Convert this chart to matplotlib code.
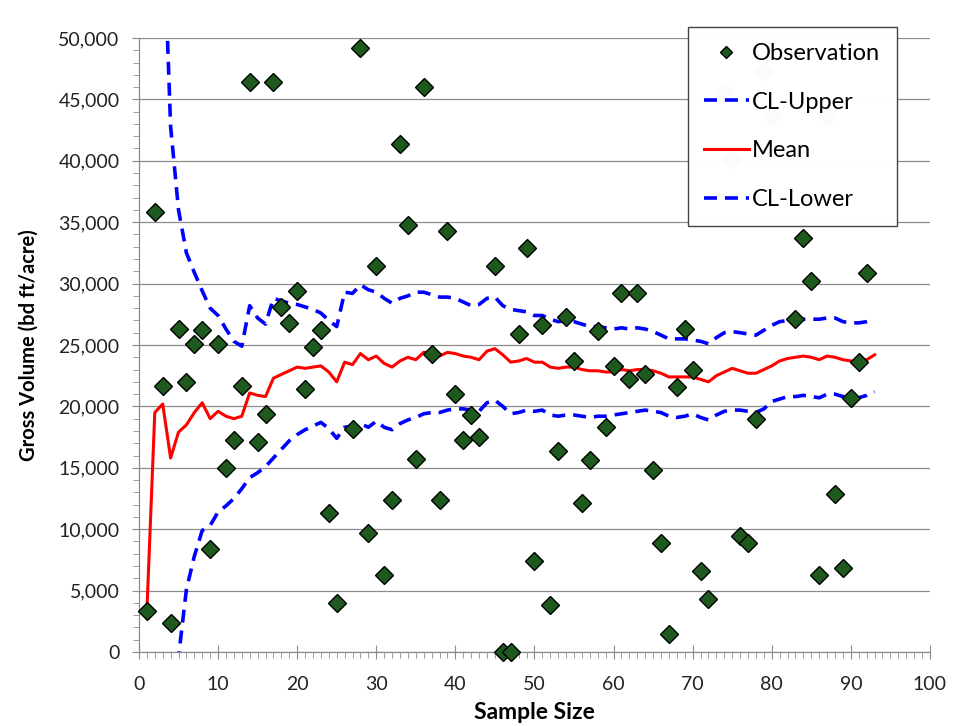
import matplotlib
matplotlib.use('Agg')
import matplotlib.pyplot as plt
from matplotlib.ticker import MultipleLocator, FuncFormatter

plt.rcParams['font.family'] = ['Lato', 'DejaVu Sans']

# observations (sample number, gross volume)
obs_x = [1, 2, 3, 4, 5, 6, 7, 8, 9, 10, 11, 12, 13, 14, 15, 16, 17, 18, 19, 20,
         21, 22, 23, 24, 25, 27, 28, 29, 30, 31, 32, 33, 34, 35, 36, 37, 38, 39, 40,
         41, 42, 43, 45, 46, 47, 48, 49, 50, 51, 52, 53, 54, 55, 56, 57, 58, 59, 60,
         61, 62, 63, 64, 65, 66, 67, 68, 69, 70, 71, 72, 74, 75, 76, 77, 78, 79, 80,
         83, 84, 85, 86, 87, 88, 89, 90, 91, 92]
obs_y = [3300, 35800, 21700, 2400, 26300, 22000, 25100, 26200, 8400, 25100,
         15000, 17300, 21700, 46400, 17100, 19400, 46400, 28100, 26800, 29400,
         21400, 24800, 26200, 11300, 4000, 18200, 49200, 9700, 31400, 6300,
         12400, 41400, 34800, 15700, 46000, 24300, 12400, 34300, 21000,
         17300, 19300, 17500, 31400, 0, 0, 25900, 32900, 7400, 26600, 3800,
         16400, 27300, 23700, 12100, 15600, 26100, 18300, 23300,
         29200, 22200, 29200, 22600, 14800, 8900, 1500, 21600, 26300, 23000,
         6600, 4300, 45600, 40100, 9450, 8850, 18950, 47300, 43600,
         27100, 33700, 30200, 6300, 43600, 12900, 6850, 20700, 23600, 30900]

# running mean, sample sizes 1..93
mean_x = list(range(1, 94))
mean_y = [3300, 19500, 20200, 15800, 17900, 18500, 19500, 20300, 19000, 19600,
          19200, 19000, 19200, 21100, 20900, 20800, 22300, 22600, 22900, 23200,
          23100, 23200, 23300, 22800, 22000, 23600, 23400, 24300, 23800, 24100,
          23500, 23200, 23700, 24000, 23800, 24400, 24400, 24100, 24400, 24300,
          24100, 24000, 23800, 24500, 24700, 24200, 23600, 23700, 23900, 23600,
          23600, 23200, 23100, 23200, 23200, 23000, 22900, 22900, 22800, 22800,
          23000, 22900, 23000, 23000, 22900, 22700, 22400, 22400, 22400, 22400,
          22200, 22000, 22500, 22800, 23100, 22900, 22700, 22700, 23000, 23300,
          23700, 23900, 24000, 24100, 24000, 23800, 24100, 24000, 23800, 23700,
          23700, 23800, 24200]

# confidence limits, sample sizes 3..93
cl_x = list(range(3, 94))
cl_upper = [61000, 42800, 36000, 32500, 30900, 29400, 28000, 27400, 26300, 25300,
            24900, 28200, 27200, 26700, 28800, 28600, 28400, 28300, 28100, 27900,
            27600, 27000, 26500, 29300, 29200, 29900, 29500, 29300, 28800, 28400,
            28800, 29000, 29300, 29300, 29100, 28900, 28900, 28800, 28500, 28200,
            28300, 28800, 28900, 28200, 27900, 27800, 27700, 27400, 27400, 27100,
            26900, 27000, 26900, 26700, 26500, 26500, 26400, 26300, 26400, 26300,
            26400, 26300, 26100, 25800, 25500, 25500, 25500, 25400, 25300, 25100,
            25600, 26000, 26100, 26000, 25900, 25800, 26200, 26600, 26900, 27000,
            27000, 27100, 27100, 27100, 27200, 27200, 26900, 26800, 26800, 26900,
            27100]
cl_lower = [-20000, -11000, -400, 5100, 7800, 9900, 10300, 11400, 11900, 12500,
            13300, 14200, 14600, 15100, 15800, 16500, 17200, 17700, 18100, 18400,
            18700, 18200, 17400, 18300, 18400, 18600, 18300, 18800, 18300, 18100,
            18600, 18900, 19100, 19400, 19500, 19500, 19700, 19800, 19800, 19700,
            19600, 20300, 20500, 20000, 19400, 19500, 19700, 19600, 19700, 19300,
            19200, 19300, 19300, 19200, 19100, 19200, 19200, 19300, 19400, 19500,
            19600, 19700, 19600, 19500, 19200, 19100, 19200, 19400, 19100, 18900,
            19300, 19600, 19700, 19700, 19600, 19500, 19800, 20400, 20600, 20800,
            20800, 20900, 20800, 20700, 21000, 21000, 20800, 20700, 20700, 20900,
            21200]

fig = plt.figure(figsize=(9.61, 7.26), dpi=100)
ax = fig.add_axes([0.1446, 0.1019, 0.8231, 0.8458])

dash = (0, (3.6, 2.2))
ax.plot(obs_x, obs_y, linestyle='none', marker='D', markersize=9,
        markerfacecolor='#1e5a1e', markeredgecolor='black', markeredgewidth=1,
        label='Observation', zorder=4, clip_on=False)
ax.plot(cl_x, cl_upper, color='#0000ff', linewidth=2.6, linestyle=dash,
        label='CL-Upper', zorder=3)
ax.plot(mean_x, mean_y, color='#ff0000', linewidth=2.2, label='Mean', zorder=3)
ax.plot(cl_x, cl_lower, color='#0000ff', linewidth=2.6, linestyle=dash,
        label='CL-Lower', zorder=3)

ax.set_xlim(0, 100)
ax.set_ylim(0, 50000)
ax.xaxis.set_major_locator(MultipleLocator(10))
ax.xaxis.set_minor_locator(MultipleLocator(1))
ax.yaxis.set_major_locator(MultipleLocator(5000))
ax.yaxis.set_minor_locator(MultipleLocator(1000))
ax.yaxis.set_major_formatter(FuncFormatter(lambda v, p: '{:,.0f}'.format(v)))

ax.grid(axis='y', color='#8c8c8c', linewidth=0.9)
ax.set_axisbelow(True)
for s in ['top', 'right']:
    ax.spines[s].set_visible(False)
for s in ['left', 'bottom']:
    ax.spines[s].set_color('#8c8c8c')
    ax.spines[s].set_linewidth(0.9)

ax.tick_params(axis='x', which='major', direction='inout', length=10, color='#8c8c8c',
               labelsize=14, labelcolor='#222222', pad=12)
ax.tick_params(axis='x', which='minor', direction='out', length=4, color='#8c8c8c')
ax.tick_params(axis='y', which='major', direction='out', length=5, color='#8c8c8c',
               labelsize=14, labelcolor='#222222', pad=9)
ax.tick_params(axis='y', which='minor', direction='out', length=4, color='#8c8c8c')

ax.set_xlabel('Sample Size', fontsize=16.5, fontweight='bold', labelpad=7)
ax.set_ylabel('Gross Volume (bd ft/acre)', fontsize=14.5, fontweight='bold', labelpad=14)

leg = ax.legend(loc='upper left', bbox_to_anchor=(0.694, 1.018), fontsize=17,
                frameon=True, fancybox=False, edgecolor='#404040', framealpha=0.985,
                labelspacing=1.17, handlelength=1.9, handletextpad=0.15,
                borderpad=0.68, borderaxespad=0, markerscale=0.72)
leg.get_frame().set_linewidth(1.0)
leg.set_zorder(10)

plt.savefig('out.png', dpi=100)
